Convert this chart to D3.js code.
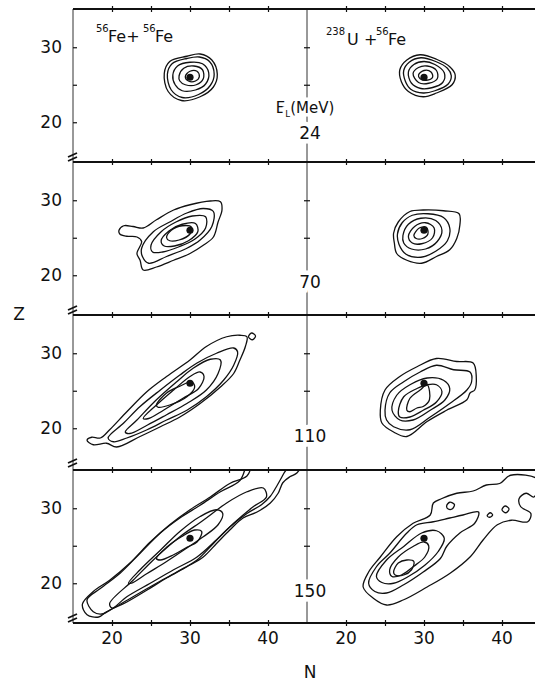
<!DOCTYPE html>
<html lang="en">
<head>
<meta charset="UTF-8">
<title>Z-N contours, Fe+Fe and U+Fe</title>
<script src="https://d3js.org/d3.v7.min.js"></script>
<style>
  body { margin: 0; background: #fff; }
  svg text { font-family: "DejaVu Sans", sans-serif; fill: #111; }
</style>
</head>
<body>
<svg id="chart" width="535" height="681"></svg>
<script>
// axis ticks and labels
const nTicks = [20, 25, 30, 35, 40];
const nLabels = [20, 30, 40];
const zTicks = [20, 25, 30];
const zLabels = [20, 30];
const midTicks = [25, 30];
const energies = ["24", "70", "110", "150"];
const projectile = [30, 26]; // N, Z of 56Fe

// contour lines as [N, Z] points, outer to inner
const feFe24 = [
  [[26.7,26.5],[27.4,28.1],[29.6,28.8],[31.3,29.1],[32.8,28.3],[33.5,26.4],[33.0,24.7],[31.3,23.4],[28.9,22.9],[27.2,24.1]],
  [[27.1,26.4],[27.7,27.8],[29.6,28.5],[31.2,28.7],[32.5,28.1],[33.1,26.4],[32.6,24.9],[31.1,23.7],[29.0,23.3],[27.6,24.3]],
  [[27.8,26.3],[28.4,27.5],[30.0,28.0],[31.6,27.8],[32.4,26.6],[32.0,25.1],[30.7,24.3],[29.0,24.2],[28.1,25.0]],
  [[28.6,26.2],[29.2,27.2],[30.5,27.5],[31.6,27.0],[31.7,25.8],[30.8,25.0],[29.4,25.0],[28.7,25.5]],
  [[29.4,26.1],[30.0,26.8],[30.9,26.8],[31.2,26.1],[30.7,25.5],[29.8,25.5]]
];
const uFe24 = [
  [[26.9,27.0],[27.8,28.3],[29.5,29.0],[31.6,28.4],[33.3,27.4],[34.0,26.3],[33.6,25.0],[31.6,23.9],[29.9,23.4],[28.0,24.1],[27.1,25.4]],
  [[27.4,26.9],[28.1,28.0],[29.6,28.6],[31.5,28.1],[33.0,27.2],[33.5,26.2],[33.1,25.1],[31.4,24.2],[29.9,23.9],[28.3,24.4],[27.6,25.5]],
  [[28.0,26.7],[28.7,27.7],[30.0,28.1],[31.4,27.7],[32.6,26.6],[32.4,25.3],[31.0,24.6],[29.6,24.5],[28.4,25.2]],
  [[28.6,26.5],[29.3,27.3],[30.4,27.5],[31.6,26.9],[31.7,25.8],[30.6,25.2],[29.3,25.3]],
  [[29.3,26.3],[30.0,26.9],[30.9,26.7],[31.1,26.0],[30.3,25.6],[29.5,25.8]]
];
const feFe70 = [
  [[20.9,26.0],[21.5,26.6],[22.7,26.5],[24.0,26.3],[25.7,27.4],[27.9,28.7],[30.0,29.4],[32.6,29.9],[33.9,29.8],[34.1,28.7],[33.6,27.1],[33.0,25.1],[31.7,24.0],[30.0,22.9],[27.9,22.0],[25.7,21.1],[24.0,20.7],[23.6,22.0],[23.2,22.9],[23.8,24.5],[23.2,25.1],[21.9,25.2],[21.0,25.5]],
  [[23.8,23.6],[25.3,25.8],[27.4,27.1],[29.6,28.3],[31.7,28.9],[33.0,28.5],[32.8,26.5],[31.3,24.7],[29.6,23.6],[27.0,22.5],[24.7,21.6],[23.9,22.5]],
  [[25.0,24.0],[26.3,25.8],[28.2,27.1],[30.3,27.9],[32.0,27.8],[32.0,26.3],[30.6,24.8],[28.6,23.8],[26.5,23.1],[25.2,23.1]],
  [[26.3,24.6],[27.3,25.9],[29.0,26.8],[30.7,26.9],[31.0,25.8],[29.8,24.6],[28.0,23.9],[26.7,23.9]],
  [[27.0,25.0],[27.6,26.0],[29.0,26.6],[30.2,26.4],[30.0,25.5],[28.6,24.7],[27.4,24.6]]
];
const uFe70 = [
  [[26.1,25.6],[26.7,27.1],[28.2,28.5],[29.9,28.7],[32.5,28.6],[34.5,28.2],[34.6,26.7],[34.2,24.9],[33.3,23.4],[31.6,22.5],[29.7,21.6],[27.8,22.0],[26.5,22.9],[26.2,24.3]],
  [[26.6,25.5],[27.2,27.0],[28.5,28.0],[30.5,28.2],[32.5,27.7],[33.3,26.3],[33.0,24.6],[31.5,23.2],[29.6,22.4],[27.7,22.8],[26.8,24.1]],
  [[27.3,25.3],[28.0,26.8],[29.6,27.6],[31.5,27.3],[32.3,26.0],[31.7,24.5],[30.2,23.5],[28.4,23.5],[27.4,24.3]],
  [[28.0,25.2],[28.8,26.5],[30.2,27.0],[31.3,26.3],[31.1,25.0],[29.7,24.2],[28.5,24.3]],
  [[28.7,25.3],[29.4,26.3],[30.3,26.4],[30.5,25.5],[29.8,24.9],[29.0,24.9]]
];
const feFe110 = [
  [[16.8,18.4],[17.4,18.8],[18.5,18.7],[19.7,19.8],[21.9,22.2],[24.5,24.9],[27.0,26.9],[30.0,29.1],[32.1,30.9],[34.7,32.2],[36.4,32.4],[37.3,32.2],[37.1,30.9],[36.4,29.1],[35.6,27.3],[33.9,25.5],[31.3,23.3],[28.7,21.5],[26.2,20.2],[23.6,18.9],[20.6,17.5],[19.3,18.0],[17.6,17.8]],
  [[37.5,32.2],[37.9,32.7],[38.4,32.3],[38.0,31.8]],
  [[19.5,18.7],[21.5,20.7],[23.6,22.9],[26.2,25.1],[28.7,27.1],[30.9,28.7],[33.4,30.0],[35.6,30.7],[36.1,30.2],[35.6,28.4],[34.3,26.4],[32.1,24.2],[29.6,22.4],[27.0,21.1],[24.5,19.8],[21.9,18.7],[20.2,18.2]],
  [[21.7,19.5],[23.2,21.1],[25.7,23.8],[28.3,26.2],[30.4,28.0],[32.6,29.2],[33.9,29.1],[33.6,27.3],[32.1,25.1],[29.6,23.3],[27.0,21.8],[24.5,20.4],[22.3,19.3]],
  [[24.0,21.3],[25.7,23.1],[27.9,25.1],[30.0,26.9],[31.3,27.5],[31.8,26.9],[31.1,25.3],[29.1,24.0],[26.6,22.4],[24.7,21.3]],
  [[25.7,23.1],[27.0,24.7],[28.7,25.6],[30.2,26.2],[30.6,25.5],[29.6,24.2],[27.4,23.1],[25.9,22.8]]
];
const uFe110 = [
  [[24.4,22.4],[25.0,25.1],[26.9,26.9],[29.1,28.2],[31.6,29.3],[34.2,28.9],[36.3,28.7],[36.7,26.9],[36.5,25.1],[35.9,24.7],[35.5,23.8],[32.9,22.4],[30.4,20.9],[27.8,18.9],[26.1,19.5],[24.6,20.7]],
  [[25.0,22.4],[25.6,24.7],[27.4,26.2],[29.5,27.5],[31.6,28.4],[33.8,27.8],[35.9,27.5],[36.1,26.2],[35.5,25.1],[33.3,23.3],[30.8,21.5],[28.2,19.8],[26.1,20.2],[25.2,21.1]],
  [[25.9,22.4],[26.5,24.4],[28.2,25.8],[30.4,26.7],[32.5,26.4],[33.3,25.3],[32.7,23.8],[30.8,22.4],[28.6,21.1],[26.9,21.1]],
  [[26.7,22.2],[27.4,24.2],[29.1,25.3],[30.4,25.8],[31.6,25.8],[32.3,24.9],[31.6,23.5],[29.9,22.4],[28.2,21.5],[26.9,21.5]],
  [[27.8,22.4],[28.2,24.0],[29.5,25.1],[30.4,25.8],[30.7,23.8],[29.9,22.9],[29.1,22.7],[28.2,22.2]]
];
const feFe150 = [
  [[16.2,17.2],[17.6,18.9],[19.7,20.4],[22.3,22.7],[24.9,25.5],[27.4,27.8],[30.0,29.8],[32.6,31.5],[35.1,33.3],[37.3,34.3],[38.5,36.5],[44.5,36.5],[43.7,34.7],[42.8,34.2],[41.9,33.4],[41.3,32.0],[40.3,30.7],[38.6,29.5],[36.8,28.7],[35.1,27.1],[33.4,25.3],[31.7,23.5],[29.6,22.2],[27.0,20.7],[24.5,19.1],[21.9,17.5],[19.3,16.2],[18.3,15.5],[16.8,15.8]],
  [[16.8,17.8],[18.5,19.3],[21.0,21.3],[23.6,24.0],[26.2,26.7],[28.7,28.7],[31.3,30.4],[33.9,32.2],[36.4,33.7],[37.8,36.5],[43.0,36.5],[42.0,34.6],[41.2,33.1],[40.3,31.6],[39.2,30.5],[37.3,29.3],[35.1,27.5],[33.0,25.3],[30.9,23.1],[28.3,21.5],[25.7,20.0],[22.7,18.2],[20.2,16.7],[18.7,15.9],[17.6,16.2]],
  [[19.7,17.3],[22.7,20.4],[25.7,23.5],[28.7,26.2],[31.7,28.4],[34.7,30.7],[37.3,32.2],[39.4,32.7],[39.8,31.5],[38.1,30.2],[35.6,28.0],[33.4,25.8],[30.9,23.5],[27.9,21.8],[24.9,20.0],[21.9,18.2],[20.0,16.7]],
  [[22.1,20.0],[23.6,21.8],[26.2,24.4],[28.7,26.9],[31.3,28.9],[33.4,29.8],[34.2,29.3],[33.6,27.8],[31.7,26.2],[29.6,24.7],[27.0,22.9],[24.5,21.3],[22.5,20.0]],
  [[25.7,23.3],[27.0,24.8],[28.9,26.2],[30.6,27.1],[31.5,26.9],[30.9,25.5],[29.6,24.8],[27.9,23.8],[26.2,23.1]]
];
const uFe150 = [
  [[22.2,19.5],[22.9,21.5],[24.4,23.5],[26.5,26.2],[28.6,28.0],[30.8,29.1],[31.2,30.7],[32.3,31.3],[34.2,32.0],[36.3,32.3],[38.0,33.1],[39.7,33.3],[41.1,34.4],[44.6,33.8],[44.1,31.5],[43.1,32.0],[42.2,31.3],[42.4,30.2],[43.7,29.3],[43.3,28.2],[41.2,28.4],[39.4,27.8],[37.6,25.8],[35.9,23.5],[33.3,21.3],[30.4,19.5],[27.4,17.8],[25.2,17.1],[23.5,18.0]],
  [[32.9,30.3],[33.3,30.8],[33.9,30.5],[33.6,29.9],[33.1,29.9]],
  [[38.1,29.0],[38.5,29.4],[38.8,29.1],[38.4,28.8]],
  [[40.0,29.8],[40.4,30.3],[40.9,29.9],[40.5,29.4]],
  [[22.9,20.0],[23.9,22.2],[25.6,24.0],[27.8,26.7],[29.1,27.8],[31.2,28.2],[33.3,28.7],[35.0,29.1],[37.0,29.5],[36.5,28.0],[34.6,26.7],[32.9,24.9],[32.1,23.3],[29.9,21.5],[27.4,19.8],[25.2,18.7],[23.7,18.9]],
  [[23.9,20.9],[25.2,23.1],[27.4,24.9],[29.7,26.7],[31.6,27.0],[32.6,26.0],[31.8,24.2],[30.1,22.4],[28.0,20.9],[26.1,20.0],[24.6,20.1]],
  [[25.6,21.8],[26.7,23.5],[28.6,24.9],[30.0,25.5],[30.6,25.0],[30.1,23.5],[28.6,22.2],[27.1,21.1],[25.9,20.9]],
  [[26.1,21.5],[26.7,22.7],[27.8,23.1],[28.7,22.9],[28.4,21.8],[27.4,21.1],[26.3,21.1]]
];

const rows = [
  { e: energies[0], left: feFe24, right: uFe24 },
  { e: energies[1], left: feFe70, right: uFe70 },
  { e: energies[2], left: feFe110, right: uFe110 },
  { e: energies[3], left: feFe150, right: uFe150 }
];

// layout
const W = 234, H = 153;
const sideX = [73, 307];
const tops = [9, 162, 315, 470];
const bottom = tops[3] + H;
const ink = "#111";

const svg = d3.select("#chart");
const x = d3.scaleLinear().domain([15, 45]).range([0, W]);
const y = d3.scaleLinear().domain([14.7, 35.1]).range([H, 0]);

const line = d3.line()
  .x(d => x(d[0]))
  .y(d => y(d[1]))
  .curve(d3.curveCatmullRomClosed.alpha(0.5));

svg.append("defs").append("clipPath").attr("id", "panel-clip")
  .append("rect").attr("width", W).attr("height", H);

// contour panels
rows.forEach((row, r) => {
  [row.left, row.right].forEach((contours, s) => {
    const g = svg.append("g")
      .attr("transform", `translate(${sideX[s]},${tops[r]})`);
    g.append("g").attr("clip-path", "url(#panel-clip)")
      .selectAll("path")
      .data(contours)
      .enter()
      .append("path")
      .attr("d", line)
      .attr("fill", "none")
      .attr("stroke", ink)
      .attr("stroke-width", 1.3)
      .attr("stroke-linejoin", "round");
    g.append("circle")
      .attr("cx", x(projectile[0]))
      .attr("cy", y(projectile[1]))
      .attr("r", 3.6)
      .attr("fill", ink);
  });
});

// left axis and middle divider
svg.append("line")
  .attr("x1", sideX[0]).attr("x2", sideX[0])
  .attr("y1", tops[0]).attr("y2", bottom)
  .attr("stroke", "#333").attr("stroke-width", 1);
svg.append("line")
  .attr("x1", sideX[1]).attr("x2", sideX[1])
  .attr("y1", tops[0]).attr("y2", bottom)
  .attr("stroke", "#333").attr("stroke-width", 1);

tops.forEach(t => {
  const left = svg.append("g").attr("transform", `translate(${sideX[0]},${t})`)
    .call(d3.axisRight(y).tickValues(zTicks).tickSize(4).tickFormat(""));
  left.select(".domain").remove();

  svg.append("g").attr("transform", `translate(${sideX[1]},${t})`)
    .call(d3.axisRight(y).tickValues(midTicks).tickSize(3).tickFormat(""))
    .select(".domain").remove();
  svg.append("g").attr("transform", `translate(${sideX[1]},${t})`)
    .call(d3.axisLeft(y).tickValues(midTicks).tickSize(3).tickFormat(""))
    .select(".domain").remove();

  zLabels.forEach(z => {
    svg.append("text")
      .attr("x", sideX[0] - 11)
      .attr("y", t + y(z) + 6)
      .attr("text-anchor", "end")
      .attr("font-size", 17)
      .text(z);
  });

  // axis break mark
  const bm = svg.append("g").attr("transform", `translate(${sideX[0]},${t + H - 5})`);
  [-2, 2].forEach(dy => {
    bm.append("line")
      .attr("x1", -5).attr("y1", dy + 2)
      .attr("x2", 4).attr("y2", dy - 2)
      .attr("stroke", ink).attr("stroke-width", 1.8);
  });
});

// horizontal frame lines with N ticks
tops.concat([bottom]).forEach(t => {
  svg.append("line")
    .attr("x1", sideX[0]).attr("x2", 535)
    .attr("y1", t).attr("y2", t)
    .attr("stroke", ink).attr("stroke-width", 2);
  sideX.forEach(sx => {
    svg.append("g").attr("transform", `translate(${sx},${t})`)
      .call(d3.axisBottom(x).tickValues(nTicks).tickSize(3).tickFormat(""))
      .select(".domain").remove();
    svg.append("g").attr("transform", `translate(${sx},${t})`)
      .call(d3.axisTop(x).tickValues(nTicks).tickSize(3).tickFormat(""))
      .select(".domain").remove();
  });
});
svg.selectAll(".tick line").attr("stroke", ink).attr("stroke-width", 1.2);

// N tick labels
sideX.forEach(sx => {
  nLabels.forEach(n => {
    svg.append("text")
      .attr("x", sx + x(n))
      .attr("y", bottom + 21)
      .attr("text-anchor", "middle")
      .attr("font-size", 17)
      .text(n);
  });
});

// energy labels on the divider
const eLabel = svg.append("text")
  .attr("x", sideX[1] - 2)
  .attr("y", tops[0] + 104)
  .attr("text-anchor", "middle")
  .attr("font-size", 15)
  .attr("stroke", "#fff").attr("stroke-width", 7)
  .attr("paint-order", "stroke");
eLabel.append("tspan").text("E");
eLabel.append("tspan").attr("font-size", 9).attr("dy", 4).text("L");
eLabel.append("tspan").attr("dy", -4).text("(MeV)");

const eY = [130, 126, 127, 127];
rows.forEach((row, r) => {
  svg.append("text")
    .attr("x", sideX[1] + 3)
    .attr("y", tops[r] + eY[r])
    .attr("text-anchor", "middle")
    .attr("font-size", 17)
    .attr("stroke", "#fff").attr("stroke-width", 9)
    .attr("paint-order", "stroke")
    .text(row.e);
});

// system titles
function title(parts, baseline) {
  parts.forEach(p => {
    svg.append("text")
      .attr("x", p[1])
      .attr("y", p[2] ? baseline - 10 : baseline)
      .attr("font-size", p[2] ? 10 : 16)
      .text(p[0]);
  });
}
title([["56", 96, true], ["Fe+", 108, false], ["56", 143, true], ["Fe", 155, false]], 42);
title([["238", 326, true], ["U", 347, false], ["+", 364, false], ["56", 376, true], ["Fe", 388, false]], 45);

// axis titles
svg.append("text").attr("x", 19).attr("y", 320)
  .attr("text-anchor", "middle").attr("font-size", 17).text("Z");
svg.append("text").attr("x", 310).attr("y", 678)
  .attr("text-anchor", "middle").attr("font-size", 17).text("N");
</script>
</body>
</html>
